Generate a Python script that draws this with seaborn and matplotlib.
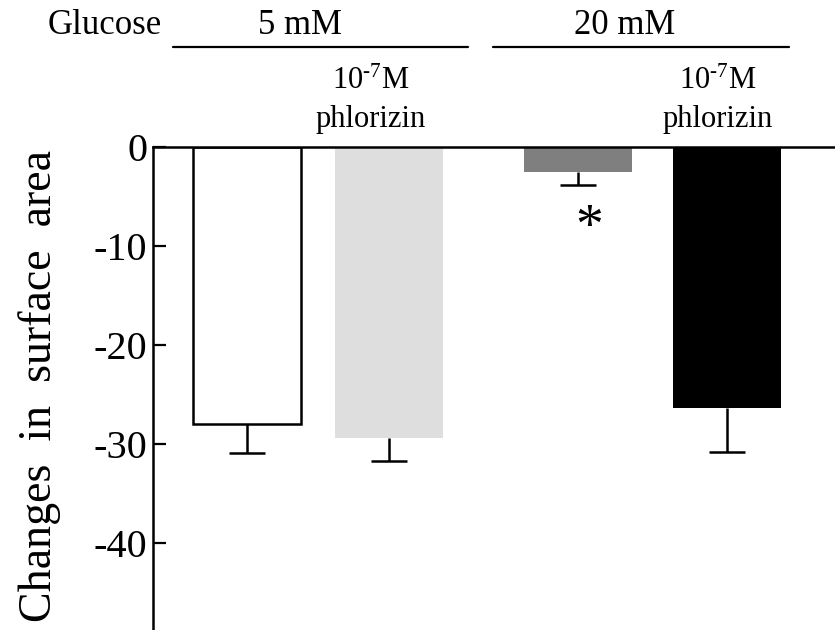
import matplotlib
matplotlib.use("Agg")
import matplotlib.pyplot as plt
from matplotlib.lines import Line2D
import seaborn as sns
import pandas as pd

# ---- data ----
categories = ["5 mM", "5 mM + phlorizin", "20 mM", "20 mM + phlorizin"]
values = [-28.0, -29.4, -2.5, -26.4]          # change in surface area
err_low = [2.9, 2.3, 1.3, 4.4]                 # SEM (drawn downward only)
bar_colors = ["#ffffff", "#dedede", "#7f7f7f", "#000000"]
yticks = [0, -10, -20, -30, -40]
glucose_labels = ["5 mM", "20 mM"]
treat_label = "10$^{\u20107}$M\nphlorizin"

# ---- layout (not data) ----
xpos = [0.0, 1.0, 2.33, 3.38]

sns.set_theme(style="white")
plt.rcParams["font.family"] = ["Liberation Serif", "DejaVu Serif"]
plt.rcParams["mathtext.fontset"] = "custom"
plt.rcParams["mathtext.rm"] = "Liberation Serif"
plt.rcParams["mathtext.it"] = "Liberation Serif:italic"
plt.rcParams["axes.unicode_minus"] = False
plt.rcParams["text.color"] = "black"
plt.rcParams["axes.labelcolor"] = "black"
plt.rcParams["ytick.color"] = "black"

W, H = 835, 630
fig = plt.figure(figsize=(W / 100, H / 100), dpi=100)
ax = fig.add_axes([153 / W, 0.0, 1 - 153 / W, 1 - 147 / H])

df = pd.DataFrame({"x": xpos, "val": values, "cat": categories})
sns.barplot(data=df, x="x", y="val", hue="cat", palette=dict(zip(categories, bar_colors)),
            native_scale=True, dodge=False, width=0.76, legend=False, ax=ax,
            linewidth=0, saturation=1)

for i, p in enumerate(ax.patches):
    if i == 0:
        p.set_edgecolor("black")
        p.set_linewidth(1.8)
    else:
        p.set_linewidth(0)

lows = [v - e for v, e in zip(values, err_low)]
ax.vlines(xpos, values, lows, color="black", lw=1.8, zorder=3)
ax.plot(xpos, lows, ls="none", marker="_", ms=26.6, mew=1.8, color="black", zorder=3)

ax.set_xlim(-0.662, 4.14)
ax.set_ylim(-48.8, 0)
ax.set_yticks(yticks)
ax.set_yticklabels([str(t) for t in yticks], fontsize=29, color="black")
ax.set_xticks([])
ax.set_xlabel("")
ax.tick_params(axis="y", direction="in", length=9, width=1.6, color="black", pad=4, left=True)
for s in ["right", "bottom"]:
    ax.spines[s].set_visible(False)
for s in ["left", "top"]:
    ax.spines[s].set_color("black")
    ax.spines[s].set_linewidth(1.8)
ax.set_ylabel("Changes  in  surface  area", fontsize=33, color="black")
ax.yaxis.set_label_coords(-0.135, 0.505)

# significance
ax.text(2.41, -8.3, "*", ha="center", va="center", fontsize=40, color="black")

# top annotations (figure pixel coords)
def fx(x):
    return x / W

def fy(y):
    return 1 - y / H

fig.text(fx(105), fy(25), "Glucose", ha="center", va="center", fontsize=25)
fig.text(fx(300), fy(25), glucose_labels[0], ha="center", va="center", fontsize=25)
fig.text(fx(625), fy(25), glucose_labels[1], ha="center", va="center", fontsize=25)
for x0, x1 in [(173, 468), (493, 789)]:
    fig.add_artist(Line2D([fx(x0), fx(x1)], [fy(47), fy(47)], transform=fig.transFigure,
                          color="black", lw=1.6))
for cx in [371, 718]:
    fig.text(fx(cx), fy(100), treat_label, ha="center", va="center", fontsize=22,
             linespacing=1.4)

fig.savefig("out.png", dpi=100)
